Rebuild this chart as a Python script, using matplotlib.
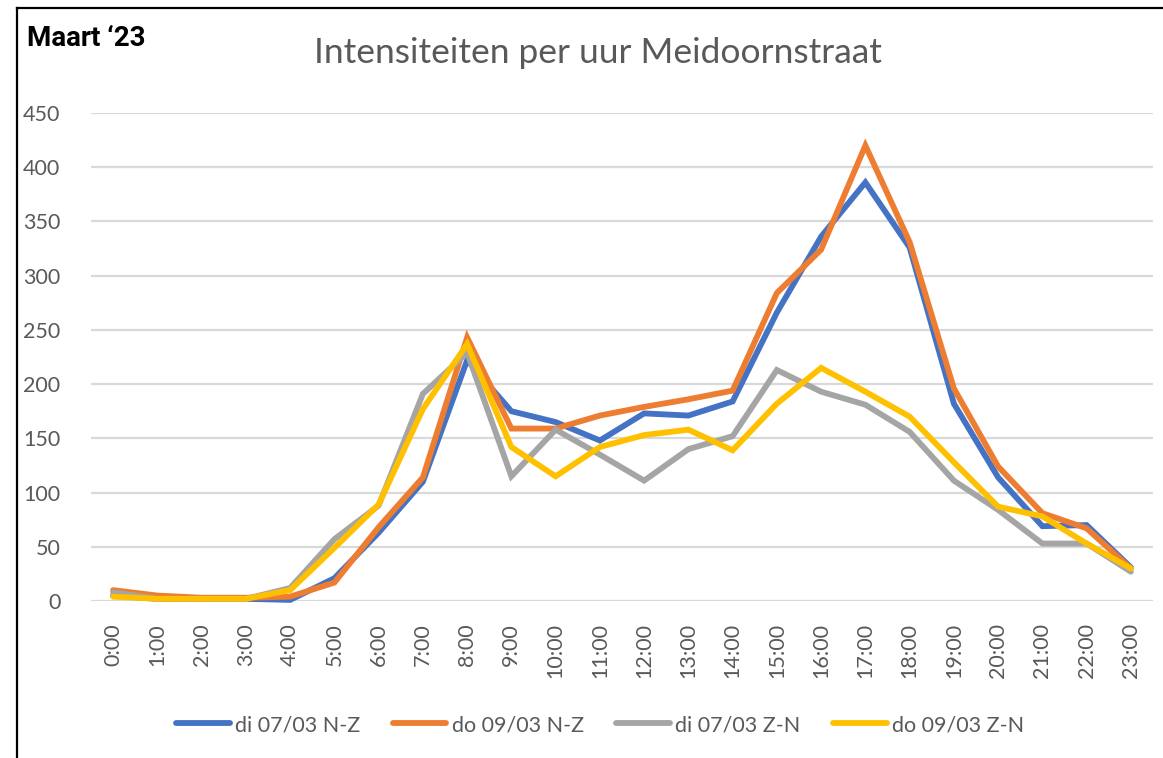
import matplotlib
matplotlib.use("Agg")
import matplotlib.pyplot as plt
from matplotlib.lines import Line2D

# uurlabels
uren = [f"{h}:00" for h in range(24)]

# intensiteiten per uur
di_nz = [5, 2, 2, 2, 1, 21, 63, 110, 222, 175, 165, 148, 173, 171, 184,
         266, 336, 386, 326, 182, 114, 69, 70, 31]
do_nz = [10, 5, 3, 3, 4, 17, 68, 114, 243, 159, 159, 171, 179, 186, 194,
         284, 324, 420, 331, 196, 124, 81, 67, 30]
di_zn = [8, 2, 2, 2, 12, 57, 88, 191, 229, 115, 158, 135, 111, 140, 152,
         213, 193, 181, 156, 111, 84, 53, 53, 27]
do_zn = [4, 2, 2, 2, 10, 49, 89, 177, 237, 142, 115, 142, 153, 158, 139,
         182, 215, 193, 170, 128, 87, 78, 53, 30]

reeksen = ["di 07/03 N-Z", "do 09/03 N-Z", "di 07/03 Z-N", "do 09/03 Z-N"]
kleuren = ["#4472C4", "#ED7D31", "#A5A5A5", "#FFC000"]
tekstkleur = "#595959"

plt.rcParams["font.family"] = ["Lato", "DejaVu Sans"]

fig = plt.figure(figsize=(11.63, 7.58), dpi=100)
ax = fig.add_axes([91 / 1163, 1 - 601 / 758, (1153 - 91) / 1163, (601 - 113) / 758])

x = list(range(len(uren)))
for data, naam, kleur in zip([di_nz, do_nz, di_zn, do_zn], reeksen, kleuren):
    ax.plot(x, data, color=kleur, lw=4.2, label=naam, clip_on=False,
            solid_capstyle="round", solid_joinstyle="miter", zorder=3)

ax.set_xlim(-0.5, 23.5)
ax.set_ylim(0, 450)
ax.set_yticks(range(0, 451, 50))
ax.set_xticks(x)
ax.set_xticklabels(uren, rotation=90)
ax.tick_params(axis="both", length=0, colors=tekstkleur, labelsize=15.5)
ax.tick_params(axis="x", pad=16)
ax.tick_params(axis="y", pad=22)
ax.grid(axis="y", color="#D9D9D9", lw=1.6, zorder=0)
for s in ax.spines.values():
    s.set_visible(False)

fig.text(598 / 1163, 1 - 53 / 758, "Intensiteiten per uur Meidoornstraat",
         ha="center", va="center", fontsize=25.5, color=tekstkleur)
fig.text(27 / 1163, 1 - 38 / 758, "Maart \u201823", ha="left", va="center",
         fontsize=20, fontweight="bold", color="black", family=["Roboto", "DejaVu Sans"])

handles = [Line2D([], [], color=k, lw=4.2, solid_capstyle="round") for k in kleuren]
fig.legend(handles, reeksen, loc="center", bbox_to_anchor=(600 / 1163, 1 - 725 / 758),
           ncol=4, frameon=False, fontsize=15.5, labelcolor=tekstkleur,
           handlelength=2.5, handletextpad=0.25, columnspacing=1.5)

# kader links en boven
fig.add_artist(Line2D([17 / 1163, 17 / 1163], [0, 1 - 8 / 758], color="black", lw=1.6,
                      transform=fig.transFigure))
fig.add_artist(Line2D([17 / 1163, 1], [1 - 8 / 758, 1 - 8 / 758], color="black", lw=1.6,
                      transform=fig.transFigure))

fig.savefig("out.png", dpi=100)
